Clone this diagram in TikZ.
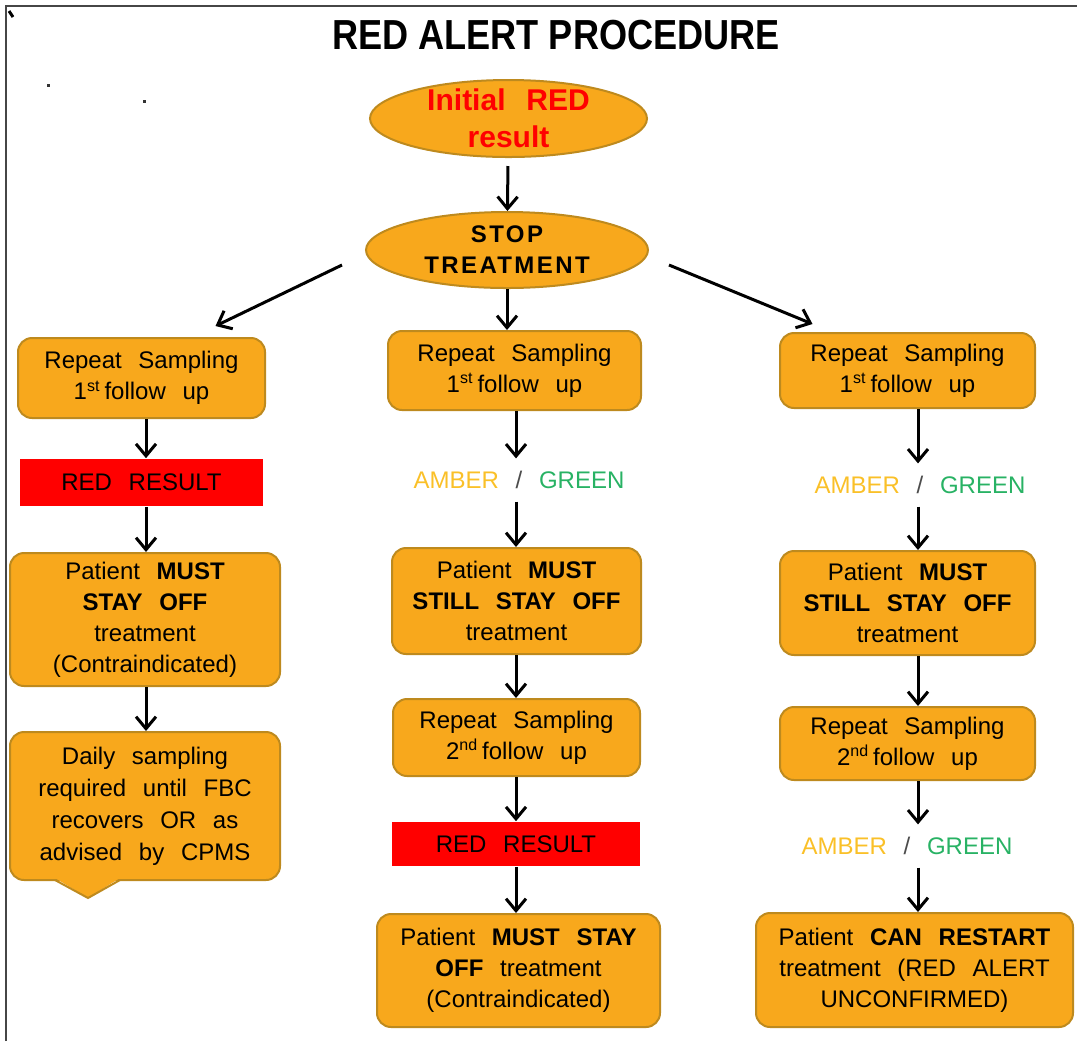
\documentclass[tikz,border=0pt]{standalone}
\usepackage{fontspec}
\usepackage{tikz}
\usetikzlibrary{shapes, positioning, arrows.meta}
\setmainfont{Liberation Sans}[WordSpace=2.5]
\newfontfamily\titlefont{Liberation Sans}[FakeStretch=0.86]
\newfontfamily\stopfont{Liberation Sans}[LetterSpace=10, WordSpace=2.5]

\definecolor{boxfill}{RGB}{248,168,28}
\definecolor{boxline}{RGB}{190,138,30}
\definecolor{ambertxt}{RGB}{250,192,40}
\definecolor{greentxt}{RGB}{40,178,100}
\definecolor{alertred}{RGB}{255,0,0}
\definecolor{framegray}{RGB}{70,70,70}

\begin{document}
\begin{tikzpicture}[x=0.5pt, y=-0.5pt, thick,
    box/.style = {draw=boxline, fill=boxfill, line width=1pt, rounded corners=7pt, align=center, inner sep=0pt, font=\fontsize{12}{15.5}\selectfont},
    oval/.style = {draw=boxline, fill=boxfill, line width=1pt, ellipse, inner sep=0pt},
    redbar/.style = {fill=alertred, inner sep=0pt, font=\fontsize{12}{15.5}\selectfont},
    status/.style = {inner sep=6pt, font=\fontsize{12}{15.5}\selectfont},
    arr/.style = {-{Straight Barb[length=6pt, width=10pt, line width=1.5pt]}, line width=1.5pt}]
    \useasboundingbox (0,0) rectangle (1077,1041);

    % frame and specks
    \draw[framegray, line width=1pt] (6,1041) -- (6,6) -- (1077,6);
    \draw[black, line width=1.5pt] (9,11) -- (13,17);
    \fill[black!80] (47,84) rectangle (50,87);
    \fill[black!80] (143,100) rectangle (146,103);

    \node[font=\titlefont\fontsize{21}{24}\selectfont\bfseries] (title) at (556,35) {RED ALERT PROCEDURE};

    % top
    \node[oval, minimum width=138.5pt, minimum height=38.5pt,
          label={[align=center, text=alertred, font=\fontsize{15}{18.5}\selectfont\bfseries]center:{Initial RED\\result}}] (init) at (508.5,118.5) {};
    \node[oval, minimum width=141pt, minimum height=38pt,
          label={[align=center, font=\stopfont\fontsize{12}{15.5}\selectfont\bfseries]center:{STOP\\TREATMENT}}] (stop) at (507,250) {};

    % left column
    \node[box, minimum width=123.5pt, minimum height=40pt] (l1) at (141.5,378) {Repeat Sampling\\1\textsuperscript{st}\,follow up};
    \node[redbar, minimum width=121.5pt, minimum height=23.5pt] (lred) at (141.5,482.5) {RED RESULT};
    \node[box, minimum width=135pt, minimum height=66.5pt] (l2) at (145,619.5) {Patient \textbf{MUST}\\\textbf{STAY OFF}\\treatment\\(Contraindicated)};
    \node[box, minimum width=135pt, minimum height=74pt, font=\fontsize{12}{16}\selectfont] (l3) at (145,806) {Daily sampling\\required until FBC\\recovers OR as\\advised by CPMS};
    \fill[boxfill] (55,878) -- (88,898) -- (120,878) -- cycle;
    \draw[boxline, line width=1pt] (55,880) -- (88,898) -- (120,880);

    % middle column
    \node[box, minimum width=126.5pt, minimum height=39.5pt] (m1) at (514.5,370.5) {Repeat Sampling\\1\textsuperscript{st}\,follow up};
    \node[status] (ma1) at (519,480) {\textcolor{ambertxt}{AMBER} \textcolor{black!70}{/} \textcolor{greentxt}{GREEN}};
    \node[box, minimum width=124.5pt, minimum height=53pt] (m2) at (516.5,601) {Patient \textbf{MUST}\\\textbf{STILL STAY OFF}\\treatment};
    \node[box, minimum width=123.5pt, minimum height=38.5pt] (m3) at (516.5,737.5) {Repeat Sampling\\2\textsuperscript{nd}\,follow up};
    \node[redbar, minimum width=124pt, minimum height=22pt] (mred) at (516,844) {RED RESULT};
    \node[box, minimum width=141.5pt, minimum height=56.5pt] (m4) at (518.5,970.5) {Patient \textbf{MUST STAY}\\\textbf{OFF} treatment\\(Contraindicated)};

    % right column
    \node[box, minimum width=127.5pt, minimum height=37.5pt] (r1) at (907.5,370.5) {Repeat Sampling\\1\textsuperscript{st}\,follow up};
    \node[status] (ra1) at (920,485) {\textcolor{ambertxt}{AMBER} \textcolor{black!70}{/} \textcolor{greentxt}{GREEN}};
    \node[box, minimum width=127.5pt, minimum height=52pt] (r2) at (907.5,603) {Patient \textbf{MUST}\\\textbf{STILL STAY OFF}\\treatment};
    \node[box, minimum width=127.5pt, minimum height=36.5pt] (r3) at (907.5,743.5) {Repeat Sampling\\2\textsuperscript{nd}\,follow up};
    \node[status] (ra2) at (907,846) {\textcolor{ambertxt}{AMBER} \textcolor{black!70}{/} \textcolor{greentxt}{GREEN}};
    \node[box, minimum width=158.5pt, minimum height=57pt] (r4) at (914.5,970) {Patient \textbf{CAN RESTART}\\treatment (RED ALERT\\UNCONFIRMED)};

    \coordinate (lx) at (146,0);
    \coordinate (mx) at (516,0);
    \coordinate (rx) at (918,0);

    \draw[arr, shorten <=4pt] (init) -- (stop);
    \draw[arr] ([shift={(-23,15)}]stop.west) -- ([shift={(74,-11)}]l1.north);
    \draw[arr] (stop.south) -- (stop.south |- m1.north);
    \draw[arr] ([shift={(20,15)}]stop.east) -- ([shift={(-95,-8)}]r1.north);

    \draw[arr] (l1.south -| lx) -- (lred.north -| lx);
    \draw[arr] (lred.south -| lx) -- (l2.north -| lx);
    \draw[arr] (l2.south -| lx) -- (l3.north -| lx);

    \draw[arr] (m1.south -| mx) -- (ma1.north -| mx);
    \draw[arr] (ma1.south -| mx) -- (m2.north -| mx);
    \draw[arr] (m2.south -| mx) -- (m3.north -| mx);
    \draw[arr] (m3.south -| mx) -- (mred.north -| mx);
    \draw[arr] (mred.south -| mx) -- (m4.north -| mx);

    \draw[arr] (r1.south -| rx) -- (ra1.north -| rx);
    \draw[arr] (ra1.south -| rx) -- (r2.north -| rx);
    \draw[arr] (r2.south -| rx) -- (r3.north -| rx);
    \draw[arr] (r3.south -| rx) -- (ra2.north -| rx);
    \draw[arr] (ra2.south -| rx) -- (r4.north -| rx);
\end{tikzpicture}
\end{document}
